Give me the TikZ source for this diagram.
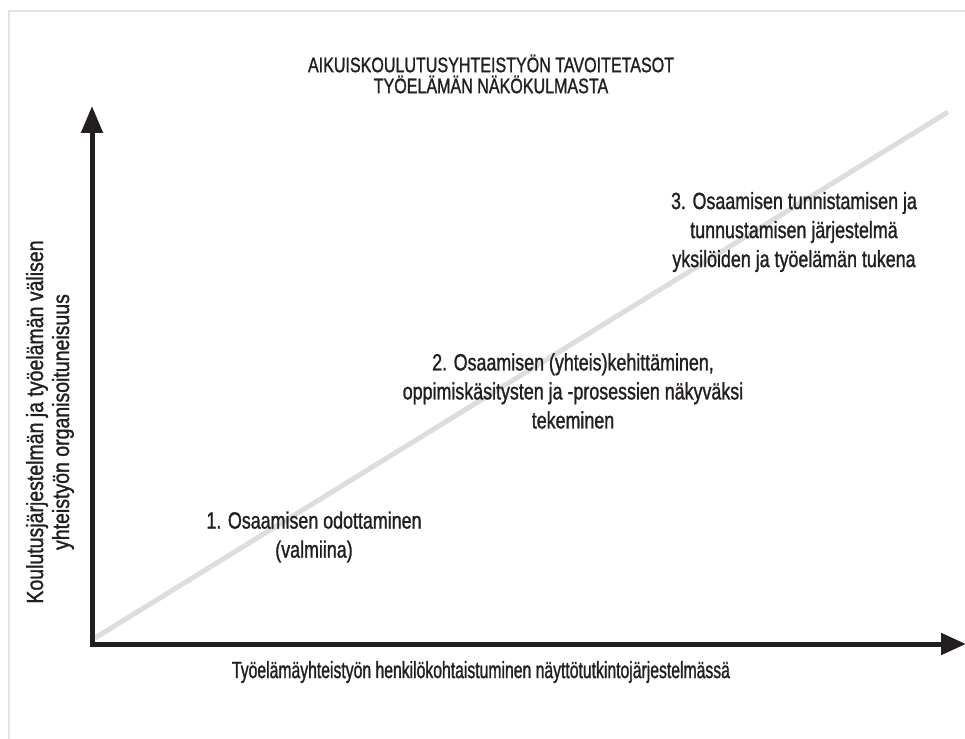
\documentclass[tikz,border=0pt]{standalone}
\usepackage{fontspec}
\setmainfont{Liberation Sans}[FakeStretch=0.76, FakeBold=1.2]
\newfontfamily\headfont{Liberation Sans}[FakeStretch=0.765, FakeBold=1.2]
\newfontfamily\axisfont{Liberation Sans}[FakeStretch=0.67, FakeBold=1.2]
\newfontfamily\sidefont{Liberation Sans}[FakeStretch=0.83, FakeBold=1.2]
\usetikzlibrary{arrows.meta}
\definecolor{axisink}{HTML}{231F20}
\definecolor{diagline}{HTML}{DCDDDE}
\definecolor{framegray}{HTML}{E3E3E3}
\tikzset{
  axis/.style={line width=5pt, color=axisink, line join=miter,
    {Triangle[length=27pt,width=21pt]}-{Triangle[length=25pt,width=21pt]}},
  trend/.style={line width=5pt, color=diagline},
  frameline/.style={line width=2.5pt, color=framegray},
  label/.style={inner sep=0pt, align=center, text=axisink,
    font=\fontsize{23.5}{29}\selectfont},
  axislabel/.style={label, font=\axisfont\fontsize{23.5}{27}\selectfont},
  sidelabel/.style={label, font=\sidefont\fontsize{23.5}{26}\selectfont},
  heading/.style={inner sep=0pt, align=center, text=axisink,
    font=\headfont\fontsize{21}{21}\selectfont},
}
\begin{document}
\begin{tikzpicture}[x=1pt, y=-1pt]
  \useasboundingbox (0,0) rectangle (965,738);
  % outer frame (top and left edges)
  \draw[frameline] (9,740) -- (9,11) -- (967,11);
  % coordinate axes
  \coordinate (ytip) at (92,106);
  \coordinate (origin) at (92,644);
  \coordinate (xtip) at (966,644);
  \coordinate (trendstart) at (95,638);
  \coordinate (trendend) at (948,112);
  \draw[trend] (trendstart) -- (trendend);
  \draw[axis] (ytip) -- (origin) -- (xtip);
  % texts
  \node[heading] (title) at (491,74)
    {AIKUISKOULUTUSYHTEISTYÖN TAVOITETASOT\\TYÖELÄMÄN NÄKÖKULMASTA};
  \node[label] (lvl1) at (314,537)
    {1. Osaamisen odottaminen\\(valmiina)};
  \node[label] (lvl2) at (573,391)
    {2. Osaamisen (yhteis)kehittäminen,\\oppimiskäsitysten ja -prosessien näkyväksi\\tekeminen};
  \node[label] (lvl3) at (794,232)
    {3. Osaamisen tunnistamisen ja\\tunnustamisen järjestelmä\\yksilöiden ja työelämän tukena};
  \node[axislabel] (xlabel) at (481,672)
    {Työelämäyhteistyön henkilökohtaistuminen näyttötutkintojärjestelmässä};
  \node[sidelabel, rotate=90] (ylabel) at (50,422)
    {Koulutusjärjestelmän ja työelämän välisen\\yhteistyön organisoituneisuus};
\end{tikzpicture}
\end{document}
